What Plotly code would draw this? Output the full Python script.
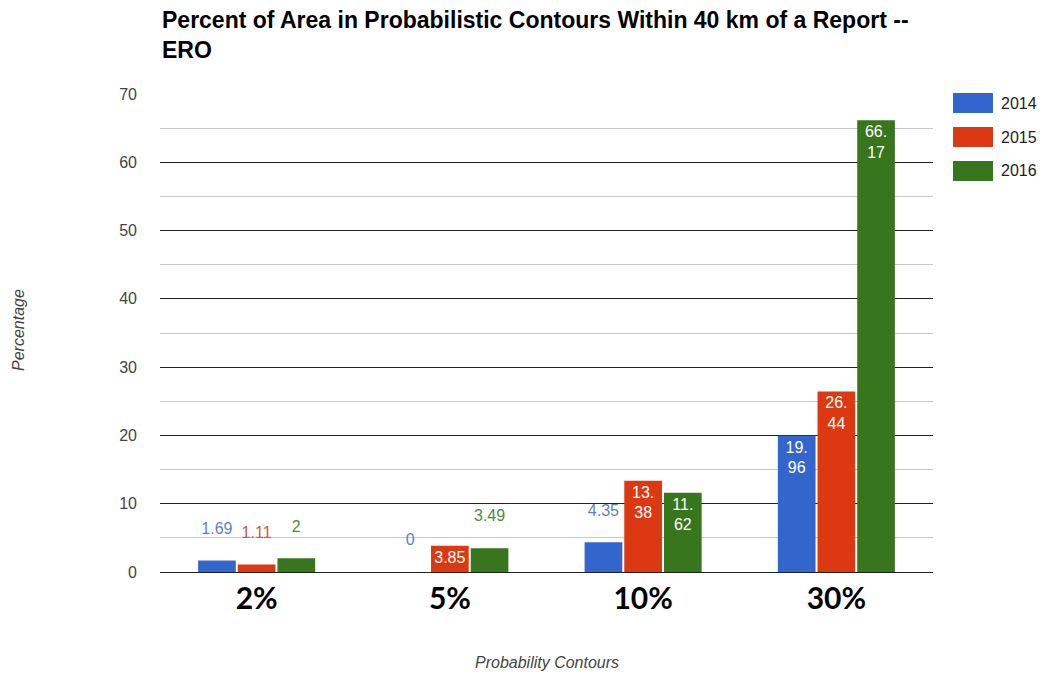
import plotly.graph_objects as go


# ----------------------------------
# DATA
# ----------------------------------

contours = ["2%", "5%", "10%", "30%"]

years = ["2014", "2015", "2016"]

pct_2014 = [1.69, 0, 4.35, 19.96]
pct_2015 = [1.11, 3.85, 13.38, 26.44]
pct_2016 = [2, 3.49, 11.62, 66.17]

# labels as google charts wrapped them
labels_2014 = ["1.69", "0", "4.35", "19.<br>96"]
labels_2015 = ["1.11", "3.85", "13.<br>38", "26.<br>44"]
labels_2016 = ["2", "3.49", "11.<br>62", "66.<br>17"]

pos_2014 = ["outside", "outside", "outside", "inside"]
pos_2015 = ["outside", "inside", "inside", "inside"]
pos_2016 = ["outside", "outside", "inside", "inside"]


# ----------------------------------
# STYLE
# ----------------------------------

colors = ["#3366cc", "#dc3912", "#38761d"]
label_colors = ["#5b7fcf", "#d4583c", "#4f8a3c"]

W, H = 1051, 677
L, R, T, B = 160, 118, 94, 105
plot_w = W - L - R
plot_h = H - T - B


def px_x(x):
    return (x - L) / plot_w


def px_y(y):
    return (H - B - y) / plot_h


def lift(labels, pos):
    # google charts floats outside labels a line above the bar
    return [
        t + "<br> " if p == "outside" else t
        for t, p in zip(labels, pos)
    ]


# ----------------------------------
# FIGURE
# ----------------------------------

fig = go.Figure()

series = [
    (pct_2014, labels_2014, pos_2014),
    (pct_2015, labels_2015, pos_2015),
    (pct_2016, labels_2016, pos_2016),
]

for i, (vals, labels, pos) in enumerate(series):
    fig.add_trace(
        go.Bar(
            x=contours,
            y=vals,
            name=years[i],
            marker=dict(color=colors[i], line=dict(width=0)),
            text=lift(labels, pos),
            textposition=pos,
            insidetextanchor="end",
            insidetextfont=dict(color="white", size=16),
            outsidetextfont=dict(color=label_colors[i], size=16),
            constraintext="none",
            cliponaxis=False,
            showlegend=False,
        )
    )

fig.update_layout(
    width=W,
    height=H,
    margin=dict(l=L, r=R, t=T, b=B),
    paper_bgcolor="white",
    plot_bgcolor="white",
    font=dict(family="Liberation Sans, Arial", color="#444"),
    barmode="group",
    bargap=0.384,
    bargroupgap=0.05,
    uniformtext=dict(minsize=16, mode="show"),
)

fig.update_xaxes(
    range=[-0.5, 3.5],
    showgrid=False,
    showline=False,
    ticks="",
    ticklabelstandoff=6,
    tickfont=dict(family="Lato, Liberation Sans", size=30, color="black",
                  weight="bold"),
)

fig.update_yaxes(
    range=[0, 70],
    dtick=10,
    showgrid=True,
    gridcolor="#222",
    gridwidth=1,
    zeroline=True,
    zerolinecolor="#222",
    zerolinewidth=1,
    showline=False,
    ticks="",
    ticklabelstandoff=22,
    tickfont=dict(size=16, color="#444"),
    minor=dict(dtick=5, showgrid=True, gridcolor="#c8c8c8", gridwidth=1),
)

# title
fig.add_annotation(
    text="Percent of Area in Probabilistic Contours Within 40 km of a Report --<br>ERO",
    xref="paper", yref="paper",
    x=0, y=px_y(5),
    xanchor="left", yanchor="top",
    align="left",
    showarrow=False,
    font=dict(family="Liberation Sans, Arial", size=23, color="black",
              weight="bold"),
)

# axis titles
fig.add_annotation(
    text="<i>Percentage</i>",
    xref="paper", yref="paper",
    x=px_x(18), y=px_y(330),
    xanchor="center", yanchor="middle",
    textangle=-90,
    showarrow=False,
    font=dict(size=16, color="#444"),
)

fig.add_annotation(
    text="<i>Probability Contours</i>",
    xref="paper", yref="paper",
    x=px_x(547), y=px_y(662),
    xanchor="center", yanchor="middle",
    showarrow=False,
    font=dict(size=16, color="#444"),
)

# legend drawn the google charts way
legend_top = [93, 127, 161]
for i, yr in enumerate(years):
    fig.add_shape(
        type="rect",
        xref="paper", yref="paper",
        x0=px_x(953), x1=px_x(993),
        y0=px_y(legend_top[i] + 20), y1=px_y(legend_top[i]),
        fillcolor=colors[i],
        line=dict(width=0),
    )
    fig.add_annotation(
        text=yr,
        xref="paper", yref="paper",
        x=px_x(999), y=px_y(legend_top[i] + 10),
        xanchor="left", yanchor="middle",
        showarrow=False,
        font=dict(size=16, color="#222"),
    )

fig.write_html(
    "out.html",
    config={"displayModeBar": False},
    post_script="document.body.style.margin='0';",
)
